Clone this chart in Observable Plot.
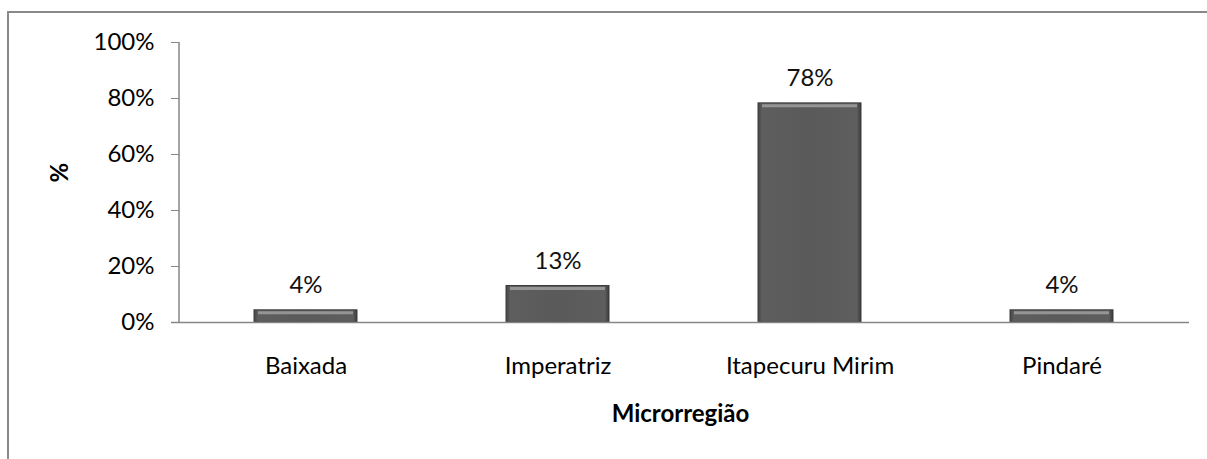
<!DOCTYPE html>
<html>
<head>
<meta charset="utf-8">
<script src="https://cdn.jsdelivr.net/npm/d3@7"></script>
<script src="https://cdn.jsdelivr.net/npm/@observablehq/plot@0.6"></script>
<style>
  html, body { margin: 0; padding: 0; background: #fff; }
  #wrap { position: relative; width: 1207px; height: 459px; overflow: hidden; }
  #border { position: absolute; left: 7px; top: 11px; width: 1300px; height: 600px;
            border-left: 2px solid #898989; border-top: 2px solid #898989; }
  #chart { position: absolute; left: 0; top: 0; }
  #chart svg { font-family: Lato, "Open Sans", sans-serif; }
</style>
</head>
<body>
<div id="wrap"><div id="border"></div><div id="chart"></div></div>
<script>
const categories = ["Baixada", "Imperatriz", "Itapecuru Mirim", "Pindaré"];
const values = [0.0435, 0.1304, 0.7826, 0.0435];
const valueLabels = ["4%", "13%", "78%", "4%"];
const yTicks = [0, 0.2, 0.4, 0.6, 0.8, 1.0];
const xTitle = "Microrregião";
const yTitle = "%";

const data = categories.map((c, i) => ({cat: c, v: values[i], lab: valueLabels[i]}));

const yAxisLine = (index, scales, values, dims) => {
  const l = d3.create("svg:line")
    .attr("x1", dims.marginLeft).attr("x2", dims.marginLeft)
    .attr("y1", dims.marginTop).attr("y2", dims.height - dims.marginBottom)
    .attr("stroke", "#868686").attr("stroke-width", 1.5);
  return l.node();
};

const FS = 24;

const chart = Plot.plot({
  width: 1207,
  height: 459,
  marginLeft: 179,
  marginRight: 18,
  marginTop: 42,
  marginBottom: 137,
  style: {fontSize: FS + "px", color: "#000", background: "transparent"},
  x: {domain: categories, paddingInner: 0.59, paddingOuter: 0.295, label: null},
  y: {domain: [0, 1], label: null},
  marks: [
    Plot.barY(data, {x: "cat", y: "v", fill: "url(#barGrad)", stroke: "#3c3c3c", strokeWidth: 1}),
    Plot.tickY(data, {x: "cat", y: "v", stroke: "#959595", strokeWidth: 3, dy: 2.5, insetLeft: 4, insetRight: 4}),
    Plot.text(data, {x: "cat", y: "v", text: "lab", dy: -25, fontSize: FS, fill: "#111"}),
    Plot.ruleY([0], {stroke: "#868686", strokeWidth: 1.5, insetLeft: -8}),
    yAxisLine,
    Plot.axisY({ticks: yTicks, tickFormat: d3.format(".0%"), tickSize: 8, tickPadding: 17, stroke: "#868686",
      label: null, fontSize: FS}),
    Plot.axisX({tickSize: 0, tickPadding: 34, label: null, fontSize: FS}),
    Plot.text([yTitle], {frameAnchor: "left", dx: -119, rotate: -90, fontSize: FS, fontWeight: "bold", fill: "#000"}),
    Plot.text([xTitle], {frameAnchor: "bottom", dx: -4, dy: 99, fontSize: FS, fontWeight: "bold", fill: "#000"})
  ]
});

const defs = d3.select(chart).insert("defs", ":first-child");
const g = defs.append("linearGradient").attr("id", "barGrad").attr("x1", 0).attr("x2", 1).attr("y1", 0).attr("y2", 0);
g.append("stop").attr("offset", "0%").attr("stop-color", "#454545");
g.append("stop").attr("offset", "4%").attr("stop-color", "#5e5e5e");
g.append("stop").attr("offset", "50%").attr("stop-color", "#5a5a5a");
g.append("stop").attr("offset", "96%").attr("stop-color", "#5e5e5e");
g.append("stop").attr("offset", "100%").attr("stop-color", "#3a3a3a");

document.getElementById("chart").appendChild(chart);
</script>
</body>
</html>
